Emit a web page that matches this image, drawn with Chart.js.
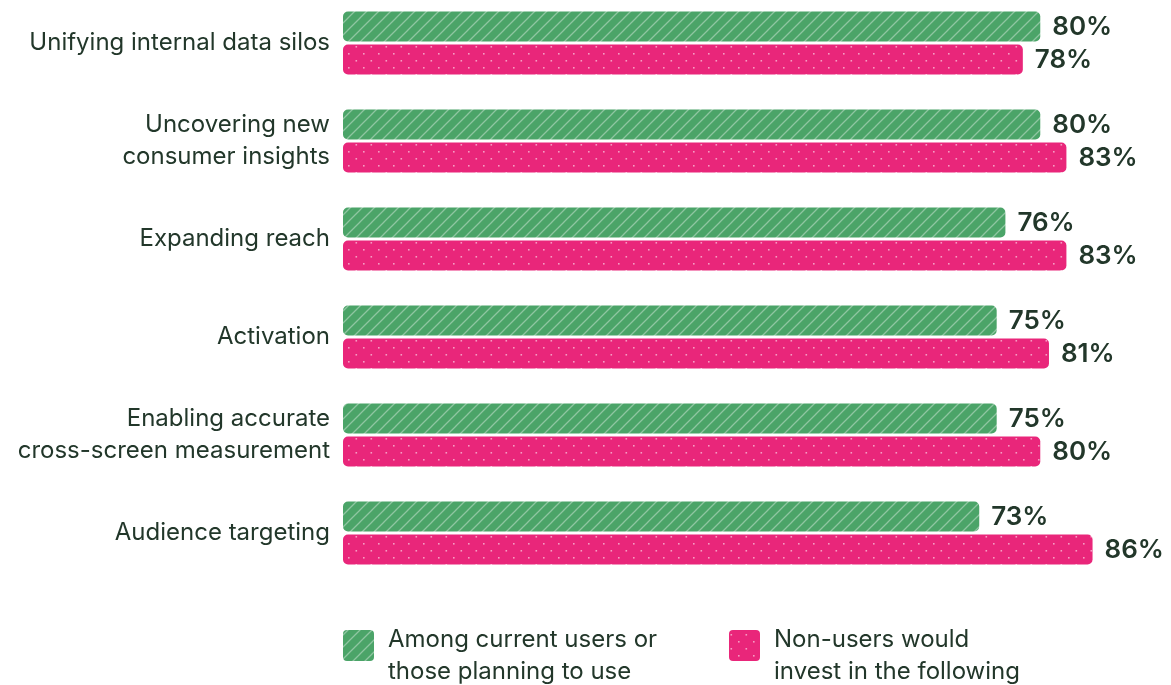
<!DOCTYPE html>
<html>
<head>
<meta charset="utf-8">
<script src="https://cdn.jsdelivr.net/npm/chart.js@4.4.1/dist/chart.umd.min.js"></script>
<style>
  body { margin: 0; background: #fff; overflow: hidden; }
  #wrap { position: absolute; left: 0; top: -6px; width: 1171px; height: 691px; }
</style>
</head>
<body>
<div id="wrap"><canvas id="chart-1"></canvas></div>
<script>
const categories = [
  "Unifying internal data silos",
  ["Uncovering new", "consumer insights"],
  "Expanding reach",
  "Activation",
  ["Enabling accurate", "cross-screen measurement"],
  "Audience targeting",
];
const currentUsers = [80, 80, 76, 75, 75, 73];
const nonUsers = [78, 83, 83, 81, 80, 86];
const seriesNames = [
  ["Among current users or", "those planning to use"],
  ["Non-users would", "invest in the following"],
];

const GREEN = "#4ba468";
const PINK = "#e9267a";
const TEXT = "#22372a";
const FONT = "Inter, 'Noto Sans', sans-serif";

function stripes() {
  const c = document.createElement("canvas");
  c.width = 12; c.height = 12;
  const g = c.getContext("2d");
  g.fillStyle = GREEN;
  g.fillRect(0, 0, 12, 12);
  g.strokeStyle = "rgba(255,255,255,0.38)";
  g.lineWidth = 1.3;
  g.beginPath();
  g.moveTo(-1, 13); g.lineTo(13, -1);
  g.moveTo(-7, 7); g.lineTo(7, -7);
  g.moveTo(5, 19); g.lineTo(19, 5);
  g.stroke();
  return g.createPattern(c, "repeat");
}

function dots() {
  const c = document.createElement("canvas");
  c.width = 15; c.height = 14;
  const g = c.getContext("2d");
  g.fillStyle = PINK;
  g.fillRect(0, 0, 15, 14);
  g.fillStyle = "rgba(255,255,255,0.55)";
  g.fillRect(3, 3, 1.6, 1.6);
  g.fillRect(10.5, 10, 1.6, 1.6);
  return g.createPattern(c, "repeat");
}

const greenFill = stripes();
const pinkFill = dots();

const valueLabels = {
  id: "valueLabels",
  afterDatasetsDraw(chart) {
    const ctx = chart.ctx;
    ctx.save();
    ctx.font = "600 26px " + FONT;
    ctx.fillStyle = TEXT;
    ctx.textAlign = "left";
    ctx.textBaseline = "middle";
    chart.data.datasets.forEach((ds, i) => {
      chart.getDatasetMeta(i).data.forEach((bar, j) => {
        ctx.fillText(ds.data[j] + "%", bar.x + 12, bar.y + 1);
      });
    });
    ctx.restore();
  },
};

const bottomLegend = {
  id: "bottomLegend",
  afterDraw(chart) {
    const ctx = chart.ctx;
    const fills = [greenFill, pinkFill];
    const xs = [343, 729];
    ctx.save();
    ctx.font = "24px " + FONT;
    ctx.textBaseline = "middle";
    seriesNames.forEach((lines, i) => {
      ctx.fillStyle = fills[i];
      ctx.beginPath();
      ctx.roundRect(xs[i], 636, 31, 31, 4);
      ctx.fill();
      ctx.fillStyle = TEXT;
      lines.forEach((t, k) => ctx.fillText(t, xs[i] + 45, 646 + k * 32));
    });
    ctx.restore();
  },
};

new Chart(document.getElementById("chart-1"), {
  type: "bar",
  data: {
    labels: categories,
    datasets: [
      { label: seriesNames[0].join(" "), data: currentUsers, backgroundColor: greenFill },
      { label: seriesNames[1].join(" "), data: nonUsers, backgroundColor: pinkFill },
    ],
  },
  options: {
    indexAxis: "y",
    responsive: true,
    maintainAspectRatio: false,
    animation: false,
    layout: { padding: { top: 0, right: 0, bottom: 103, left: 0 } },
    datasets: {
      bar: {
        categoryPercentage: 0.675,
        barPercentage: 0.91,
        borderRadius: 5,
        borderSkipped: false,
      },
    },
    scales: {
      x: { display: false, min: 0, max: 95 },
      y: {
        grid: { display: false },
        border: { display: false },
        afterFit(axis) {
          axis.width = 343;
          axis.paddingTop = 0;
          axis.paddingBottom = 0;
        },
        ticks: {
          color: TEXT,
          padding: 5,
          font: { family: FONT, size: 24, lineHeight: 1.333 },
        },
      },
    },
    plugins: {
      legend: { display: false },
      tooltip: { enabled: false },
    },
  },
  plugins: [valueLabels, bottomLegend],
});
</script>
</body>
</html>
